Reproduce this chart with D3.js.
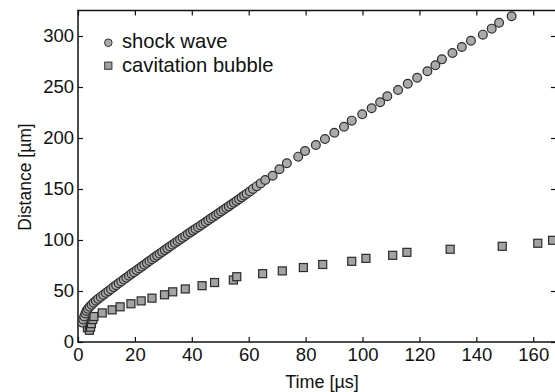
<!DOCTYPE html>
<html><head><meta charset="utf-8">
<script src="https://cdn.jsdelivr.net/npm/d3@7"></script>
<style>
html,body{margin:0;padding:0;background:#fff;}
svg{display:block;font-family:"Liberation Sans",Arial,Helvetica,sans-serif;}
</style></head>
<body>
<svg id="chart" width="555" height="392"></svg>
<script>
// Shock wave: time (µs) and distance (µm)
const shockTime = [1.5,1.8,2.2,2.6,3.0,3.5,4.1,4.8,5.5,6.3,7.1,8.0,8.9,9.8,10.7,11.6,12.5,13.4,14.3,15.2,16.1,17.0,17.9,18.8,19.7,20.6,21.5,22.4,23.3,24.2,25.1,26.0,26.9,27.8,28.7,29.6,30.5,31.4,32.3,33.2,34.1,35.0,35.9,36.8,37.7,38.6,39.5,40.4,41.3,42.2,43.1,44.0,44.9,45.8,46.7,47.6,48.5,49.4,50.3,51.2,52.1,53.0,53.9,54.8,55.7,56.6,57.5,58.4,59.3,60.4,61.5,62.8,64.2,65.8,68.4,70.8,73.4,77.4,79.8,83.6,86.8,90.1,93.5,96.2,99.9,103.2,106.2,108.7,112.5,115.9,119.2,122.8,125.6,127.9,131.6,134.9,138.1,142.3,145.4,148.0,152.4];
const shockDist = [19,22,25,28,30.5,32.5,34.5,36.5,38.5,40.5,42.3,44.2,46.2,48.0,49.9,51.8,53.8,55.7,57.6,59.4,61.2,63.0,64.9,66.8,68.5,70.3,72.1,73.9,75.8,77.6,79.4,81.2,83.0,84.7,86.5,88.3,90.1,91.8,93.6,95.3,97.1,98.8,100.6,102.3,104.0,105.8,107.5,109.2,110.9,112.6,114.3,116.0,117.7,119.4,121.1,122.8,124.5,126.2,127.9,129.6,131.3,133.0,134.8,136.5,138.2,140.0,141.8,143.6,145.4,147.6,150.0,152.6,155.5,158.8,163.0,169.3,175.2,181.7,187.3,193.1,199.0,205.2,211.1,217.0,223.2,229.1,235.0,240.9,247.1,253.2,259.1,265.4,271.3,277.1,283.3,289.2,295.4,301.3,307.2,313.0,319.3];
// Cavitation bubble: time (µs) and distance (µm)
const bubbleTime = [3.3,4.0,4.4,4.7,5.2,5.6,8.5,12.0,14.8,18.6,22.2,26.0,30.4,33.3,37.7,43.6,48.0,54.6,55.8,64.9,71.8,79.2,86.0,96.2,101.2,110.6,115.6,130.8,149.1,161.6,166.8];
const bubbleDist = [14,11.5,14.5,18,22,25,28.5,31.5,34.5,37.5,40.3,43,46.3,49.2,52,55.2,58.3,60.8,64,67,69.7,73,76,79.1,82,85,87.9,90.9,93.8,96.8,99.7];
const xTicks = [0,20,40,60,80,100,120,140,160];
const yTicks = [0,50,100,150,200,250,300];
const seriesNames = ["shock wave","cavitation bubble"];
const xTitle = "Time [\u00B5s]";
const yTitle = "Distance [\u00B5m]";

const svg = d3.select("#chart");
const L = 78, R = 556, T = 10.5, B = 342;
const x = d3.scaleLinear().domain([0,168]).range([L,R]);
const y = d3.scaleLinear().domain([0,325]).range([B,T]);

const ink = "#111";

// axes
const gx = svg.append("g").attr("transform",`translate(0,${B})`)
  .call(d3.axisBottom(x).tickValues(xTicks).tickSizeInner(-5).tickSizeOuter(0).tickPadding(6));
const gy = svg.append("g").attr("transform",`translate(${L},0)`)
  .call(d3.axisLeft(y).tickValues(yTicks).tickSizeInner(-5).tickSizeOuter(0).tickPadding(4));
const gt = svg.append("g").attr("transform",`translate(0,${T})`)
  .call(d3.axisTop(x).tickValues(xTicks).tickSizeInner(-5).tickSizeOuter(0).tickFormat(""));
const gr = svg.append("g").attr("transform",`translate(${R},0)`)
  .call(d3.axisRight(y).tickValues(yTicks).tickSizeInner(-5).tickSizeOuter(0).tickFormat(""));
[gx,gy,gt,gr].forEach(g=>{
  g.select(".domain").remove();
  g.selectAll(".tick line").attr("stroke",ink).attr("stroke-width",1.2);
  g.selectAll(".tick text").attr("fill",ink).attr("font-size",18.5).attr("font-family",'"Liberation Sans",Arial,sans-serif');
});

// frame
svg.append("rect").attr("x",L).attr("y",T).attr("width",R-L).attr("height",B-T)
  .attr("fill","none").attr("stroke",ink).attr("stroke-width",1.5);

// data
const shock = shockTime.map((t,i)=>({t, d:shockDist[i]}));
const bubble = bubbleTime.map((t,i)=>({t, d:bubbleDist[i]}));
const sq = 8;
svg.append("g").selectAll("rect").data(bubble).join("rect")
  .attr("x",p=>x(p.t)-sq/2).attr("y",p=>y(p.d)-sq/2)
  .attr("width",sq).attr("height",sq)
  .attr("fill","#a3a3a3").attr("stroke","#2a2a2a").attr("stroke-width",1.2);
svg.append("g").selectAll("circle").data(shock).join("circle")
  .attr("cx",p=>x(p.t)).attr("cy",p=>y(p.d)).attr("r",4.4)
  .attr("fill","#aaaaaa").attr("stroke","#2e2e2e").attr("stroke-width",1.2);

// legend
const lg = svg.append("g");
lg.append("circle").attr("cx",108.3).attr("cy",42.7).attr("r",3.8)
  .attr("fill","#aaaaaa").attr("stroke","#333").attr("stroke-width",1);
lg.append("rect").attr("x",108.3-3.6).attr("y",65.7-3.6).attr("width",7.2).attr("height",7.2)
  .attr("fill","#a3a3a3").attr("stroke","#333").attr("stroke-width",1);
lg.append("text").attr("x",122).attr("y",48).attr("font-size",20.2).attr("fill",ink).text(seriesNames[0]);
lg.append("text").attr("x",122).attr("y",71.5).attr("font-size",20.2).attr("fill",ink).text(seriesNames[1]);

// axis titles
svg.append("text").attr("x",322).attr("y",388).attr("text-anchor","middle")
  .attr("font-size",18).attr("fill",ink).text(xTitle);
svg.append("text").attr("transform","translate(31,177) rotate(-90)").attr("text-anchor","middle")
  .attr("font-size",17.5).attr("fill",ink).text(yTitle);
</script>
</body></html>
